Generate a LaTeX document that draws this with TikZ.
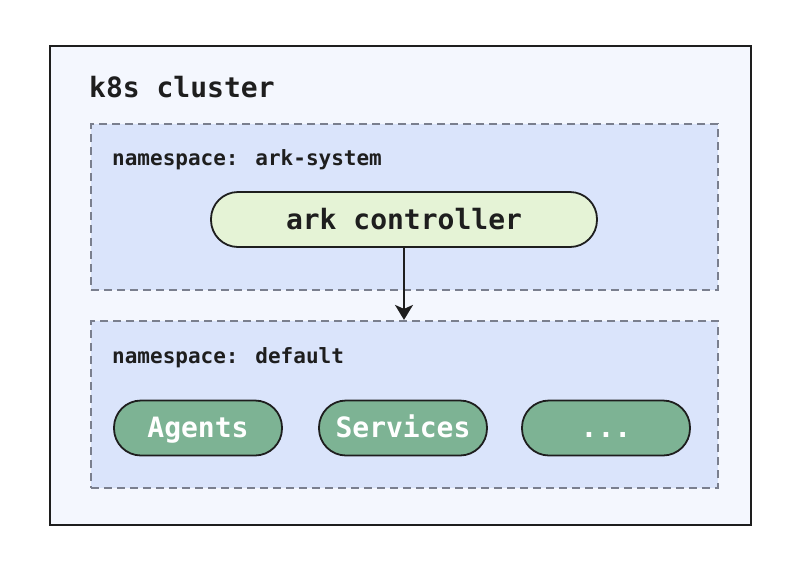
\documentclass[tikz,border=0pt]{standalone}
\usepackage{fontspec}
\usetikzlibrary{arrows.meta}
\newfontfamily\diagmono{DejaVu Sans Mono}
\definecolor{clusterfill}{HTML}{F4F7FE}
\definecolor{nsfill}{HTML}{DAE4FB}
\definecolor{nsline}{HTML}{7A7F8E}
\definecolor{ctrlfill}{HTML}{E5F3D6}
\definecolor{podfill}{HTML}{7DB394}
\definecolor{ink}{HTML}{1E1E1E}
\tikzset{
  cluster/.style = {draw=ink, line width=2pt, fill=clusterfill, inner sep=0pt},
  nsbox/.style = {draw=nsline, line width=2.2pt, fill=nsfill, dash pattern=on 8pt off 5pt, inner sep=0pt},
  pill/.style = {draw=ink, line width=1.8pt, rounded corners=27pt, inner sep=0pt, minimum height=55pt,
    text height=19pt, text depth=0pt, font=\diagmono\bfseries\fontsize{28}{30}\selectfont},
  title/.style = {anchor=base west, inner sep=0pt, text=ink, font=\diagmono\bfseries\fontsize{28}{30}\selectfont},
  nslabel/.style = {anchor=base west, inner sep=0pt, text=ink, font=\diagmono\bfseries\fontsize{21}{24}\selectfont}
}
\begin{document}
\begin{tikzpicture}[x=1pt,y=-1pt]
\useasboundingbox (0,0) rectangle (788,566);
%---cluster------------------------------------------
\node[cluster, minimum width=701pt, minimum height=479pt] (cluster) at (400.5,285.5) {};
\node[title] (clustertitle) at (89,97) {k8s cluster};
%---ark-system---------------------------------------
\node[nsbox, minimum width=627pt, minimum height=166pt] (nssys) at (404.5,207) {};
\node[nslabel] (nssyslabel) at (112,165) {namespace: ark-system};
\node[pill, fill=ctrlfill, text=ink, minimum width=386pt] (ctrl) at (404,219.5) {ark controller};
%---default------------------------------------------
\node[nsbox, minimum width=627pt, minimum height=167pt] (nsdef) at (404.5,404.5) {};
\node[nslabel] (nsdeflabel) at (112,363) {namespace: default};
\node[pill, fill=podfill, text=white, minimum width=168pt] (agents) at (198,428) {Agents};
\node[pill, fill=podfill, text=white, minimum width=168pt] (services) at (403,428) {Services};
\node[pill, fill=podfill, text=white, minimum width=168pt] (more) at (606,428) {...};
%---arrow--------------------------------------------
\draw[ink, line width=2pt, -{Stealth[length=15pt,width=18pt,inset=4pt]}] (ctrl.south) -- (ctrl.south |- nsdef.north);
\end{tikzpicture}
\end{document}
